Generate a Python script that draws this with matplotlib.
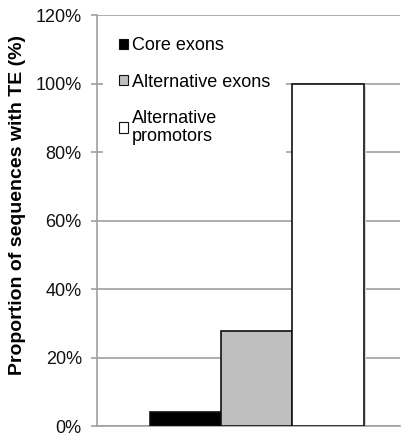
import matplotlib.pyplot as plt
import matplotlib.patches as mpatches

plt.rcParams['font.family'] = ['Liberation Sans', 'DejaVu Sans']

# data
series = ["Core exons", "Alternative exons", "Alternative\npromotors"]
values = [4.1, 27.7, 100.0]
colors = ["#000000", "#BFBFBF", "#FFFFFF"]
yticks = [0, 20, 40, 60, 80, 100, 120]

fig = plt.figure(figsize=(4.06, 4.34), dpi=100)
ax = fig.add_axes([0.239, 0.018, 0.746, 0.947])

width = 0.24
offsets = [-1, 0, 1]
for off, val, col, name in zip(offsets, values, colors, series):
    # light shadow like the office chart
    ax.bar(off * width + 0.008, val, width, bottom=-0.6, color="#d8d8d8",
           edgecolor="none", zorder=2)
    ax.bar(off * width, val, width, color=col, edgecolor="#111111",
           linewidth=1.2, zorder=3, label=name)

ax.set_xlim(-0.538, 0.482)
ax.set_ylim(0, 120)
ax.set_yticks(yticks)
ax.set_yticklabels([f"{t}%" for t in yticks], fontsize=13)
ax.set_xticks([])
ax.yaxis.grid(True, color="#a0a0a0", linewidth=1.2, zorder=0)
ax.set_axisbelow(True)
for s in ["top", "right"]:
    ax.spines[s].set_visible(False)
ax.spines["left"].set_color("#a0a0a0")
ax.spines["bottom"].set_color("#a0a0a0")
ax.spines["left"].set_linewidth(1.2)
ax.spines["bottom"].set_linewidth(1.2)
ax.tick_params(axis="y", colors="#a0a0a0", length=4, width=1.2, pad=7,
               labelcolor="#111111")
ax.set_ylabel("Proportion of sequences with TE (%)", fontsize=14, fontweight="bold")
ax.yaxis.set_label_coords(-0.234, 0.538)

leg_handles = [mpatches.Patch(facecolor=c, edgecolor="#111111", linewidth=0.8)
               for c in colors]
leg = ax.legend(leg_handles, series, loc="upper left", bbox_to_anchor=(0.02, 0.986),
                frameon=True, facecolor="white", edgecolor="none", framealpha=1,
                fancybox=False, fontsize=13, handlelength=0.5, handleheight=0.5,
                handletextpad=0.2, labelspacing=1.07, borderpad=0.9, borderaxespad=0)
leg.set_zorder(4)
for t in leg.get_texts():
    t.set_linespacing(1.1)

fig.savefig("out.png", dpi=100)
